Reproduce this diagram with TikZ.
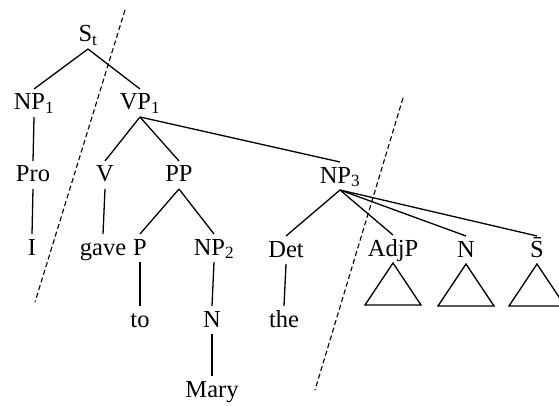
\documentclass[tikz,border=0pt]{standalone}
\usepackage{fontspec}
\setmainfont{Liberation Serif}
\begin{document}
\begin{tikzpicture}[x=1pt,y=-1pt,
  lbl/.style={anchor=base,inner sep=0pt,outer sep=3pt,text height=18pt,text depth=4pt,
    font=\fontsize{24.5}{28}\selectfont},
  edge/.style={line width=1.3pt},
  tri/.style={line width=1.3pt},
  cut/.style={line width=1.1pt,dash pattern=on 5pt off 3pt}]
\useasboundingbox (0,0) rectangle (559,406);
% nodes (base positions)
\node[lbl] (s)    at (88,42)  {S\textsubscript{t}};
\node[lbl] (np1)  at (34,110) {NP\textsubscript{1}};
\node[lbl] (vp1)  at (140,110) {VP\textsubscript{1}};
\node[lbl] (pro)  at (33,182) {Pro};
\node[lbl] (v)    at (105,182) {V};
\node[lbl] (pp)   at (179,182) {PP};
\node[lbl] (np3)  at (340,183) {NP\textsubscript{3}};
\node[lbl] (i)    at (32,255) {I};
\node[lbl] (gave) at (103,255) {gave};
\node[lbl] (p)    at (140,255) {P};
\node[lbl] (np2)  at (214,255) {NP\textsubscript{2}};
\node[lbl] (det)  at (286,257) {Det};
\node[lbl] (adjp) at (393,256) {AdjP};
\node[lbl] (n2)   at (466,257) {N};
\node[lbl] (sbar) at (537,257) {\={S}};
\node[lbl] (to)   at (140,327) {to};
\node[lbl] (n1)   at (212,327) {N};
\node[lbl] (the)  at (284,327) {the};
\node[lbl] (mary) at (212,397) {Mary};
% connectors
\draw[edge] (s.south) -- (np1.north);
\draw[edge] (s.south) -- (vp1.north);
\draw[edge] (np1.south) -- (pro.north);
\draw[edge] (pro.south) -- (i.north);
\draw[edge] (vp1.south) -- (v.north);
\draw[edge] (vp1.south) -- (pp.north);
\draw[edge] (vp1.south) -- (np3.north);
\draw[edge] (v.south) -- (gave.north);
\draw[edge] (pp.south) -- (p.north);
\draw[edge] (pp.south) -- (np2.north);
\draw[edge] (p.south) -- (to.north);
\draw[edge] (np2.south) -- (n1.north);
\draw[edge] (n1.south) -- (mary.north);
\draw[edge] (np3.south) -- (det.north);
\draw[edge] (det.south) -- (the.north);
\draw[edge] (np3.south) -- (adjp.north);
\draw[edge] (np3.south) -- (n2.north);
\draw[edge] (np3.south) -- (sbar.north);
% triangles
\draw[tri] (adjp.south) -- ++(-28,42) -- ++(56,0) -- cycle;
\draw[tri] (n2.south) -- ++(-28,42) -- ++(56,0) -- cycle;
\draw[tri] (sbar.south) -- ++(-28,42) -- ++(56,0) -- cycle;
% cut lines
\draw[cut] (125,10) -- (35,302);
\draw[cut] (403,98) -- (315,390);
\end{tikzpicture}
\end{document}
